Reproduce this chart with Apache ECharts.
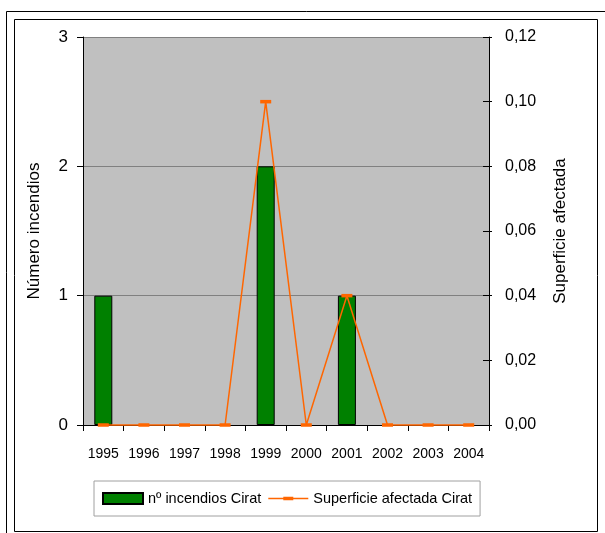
<!DOCTYPE html>
<html>
<head>
<meta charset="utf-8">
<script src="https://cdn.jsdelivr.net/npm/echarts@6/dist/echarts.min.js"></script>
<style>html,body{margin:0;padding:0;background:#fff;}#c{width:605px;height:533px;}</style>
</head>
<body>
<div id="c"></div>
<script>
var years = ['1995','1996','1997','1998','1999','2000','2001','2002','2003','2004'];
var incendios = [1,0,0,0,2,0,1,0,0,0];
var superficie = [0,0,0,0,0.10,0,0.04,0,0,0];
var leftTicks = [0,1,2,3];
var rightTicks = [0,0.02,0.04,0.06,0.08,0.10,0.12];

var FONT = "'Liberation Sans', Arial, sans-serif";
var LEGEND_LINE = 'path://M0,5L40,5L40,6.5L0,6.5Z M15,4L25,4L25,7.5L15,7.5Z';
var chart = echarts.init(document.getElementById('c'), null, {renderer:'canvas'});
chart.setOption({
  animation: false,
  backgroundColor: '#ffffff',
  textStyle: {fontFamily: FONT},
  graphic: [
    {type:'rect', shape:{x:6.5, y:11.5, width:620, height:540}, style:{fill:'none', stroke:'#000', lineWidth:1}, silent:true, z:-1},
    {type:'rect', shape:{x:14.5, y:19.5, width:583, height:512}, style:{fill:'none', stroke:'#000', lineWidth:1}, silent:true, z:-1}
  ],
  grid: {left:83, right:116, top:37, bottom:108, show:true, backgroundColor:'#C0C0C0', borderWidth:0},
  legend: {
    left: 94, top: 481,
    padding: [10, 8, 10, 8],
    itemGap: 7,
    itemWidth: 40, itemHeight: 11,
    borderColor: '#A0A0A0', borderWidth: 1,
    backgroundColor: '#fff',
    textStyle: {fontFamily: FONT, fontSize: 14.5, color: '#000'},
    data: [
      {name:'nº incendios Cirat', icon:'rect'},
      {name:'Superficie afectada Cirat', icon: LEGEND_LINE, itemStyle:{color:'#FF6600'}}
    ]
  },
  xAxis: {
    type: 'category',
    data: years,
    boundaryGap: true,
    axisLine: {lineStyle:{color:'#000', width:1}},
    axisTick: {show:true, length:6, alignWithLabel:false, lineStyle:{color:'#000'}},
    axisLabel: {fontFamily: FONT, fontSize:14, color:'#000', margin:22, interval:0}
  },
  yAxis: [
    {
      type: 'value', min: leftTicks[0], max: leftTicks[leftTicks.length-1], interval: 1,
      name: 'Número incendios', nameLocation: 'middle', nameGap: 40, nameRotate: 90,
      nameTextStyle: {fontFamily: FONT, fontSize:17, color:'#000'},
      axisLine: {show:true, lineStyle:{color:'#000'}},
      axisTick: {show:true, length:6, lineStyle:{color:'#000'}},
      axisLabel: {fontFamily: FONT, fontSize:17, color:'#000', margin:15},
      splitLine: {show:true, lineStyle:{color:'#808080', width:1}}
    },
    {
      type: 'value', min: rightTicks[0], max: rightTicks[rightTicks.length-1], interval: 0.02,
      position: 'right',
      name: 'Superficie afectada', nameLocation: 'middle', nameGap: 63, nameRotate: 90,
      nameTextStyle: {fontFamily: FONT, fontSize:17, color:'#000'},
      axisLine: {show:true, lineStyle:{color:'#000'}},
      axisTick: {show:true, length:3, lineStyle:{color:'#000'}},
      axisLabel: {fontFamily: FONT, fontSize:16, color:'#000', margin:16,
        formatter: function(v){ return v.toFixed(2).replace('.', ','); }},
      splitLine: {show:false}
    },
    {
      type: 'value', min: rightTicks[0], max: rightTicks[rightTicks.length-1], interval: 0.02,
      position: 'right',
      axisLine: {show:false},
      axisTick: {show:true, inside:true, length:6, lineStyle:{color:'#000'}},
      axisLabel: {show:false},
      splitLine: {show:false}
    }
  ],
  series: [
    {
      name: 'nº incendios Cirat', type: 'bar', yAxisIndex: 0,
      data: incendios.map(function(v){ return v === 0 ? null : v; }), barWidth: 18,
      itemStyle: {color:'#008000', borderColor:'#000', borderWidth:1}
    },
    {
      name: 'Superficie afectada Cirat', type: 'line', yAxisIndex: 1,
      data: superficie, clip: false,
      symbol: 'rect', symbolSize: [11, 3.5], showAllSymbol: true,
      lineStyle: {color:'#FF6600', width:1.5},
      itemStyle: {color:'#FF6600', borderWidth:0}
    }
  ]
});
</script>
</body>
</html>
